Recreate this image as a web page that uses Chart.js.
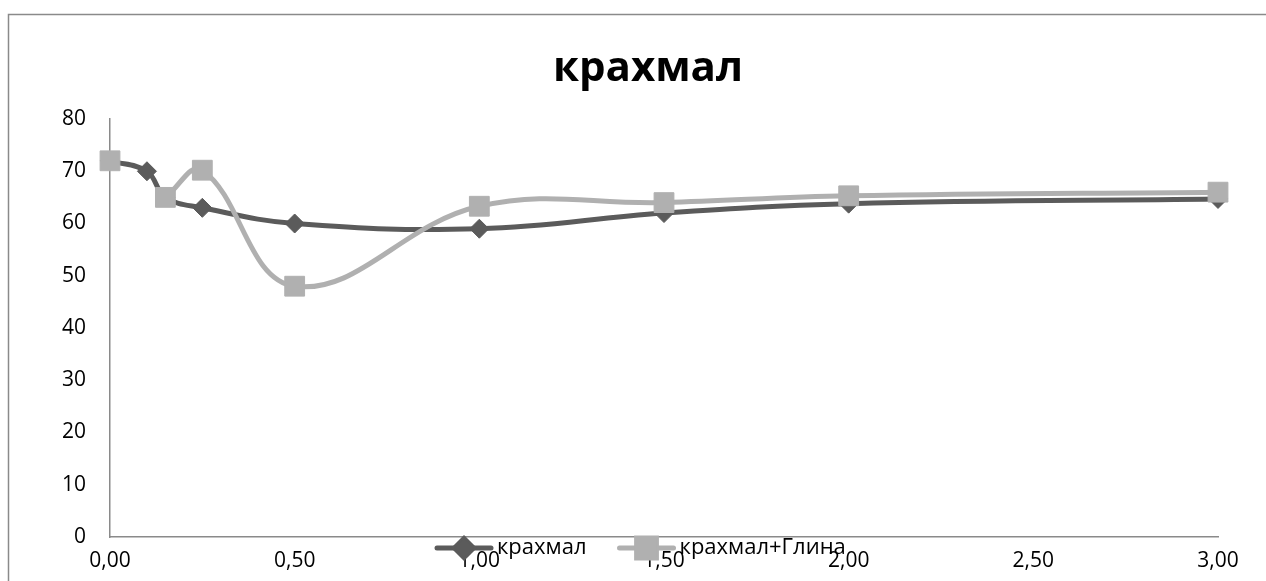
<!DOCTYPE html>
<html>
<head>
<meta charset="utf-8">
<script src="https://cdn.jsdelivr.net/npm/chart.js@4"></script>
<style>
  html, body { margin: 0; padding: 0; background: #fff; }
  #wrap { width: 1266px; height: 581px; }
</style>
</head>
<body>
<div id="wrap"><canvas id="starchChart"></canvas></div>
<script>
// concentration steps (x) shared by both series
const doses = [0, 0.1, 0.15, 0.25, 0.5, 1.0, 1.5, 2.0, 3.0];
// measured values; no reading for the clay mix at 0.1
const starch = [72, 70, 65, 63, 60, 59, 62, 63.8, 64.7];
const starchClay = [72, null, 65, 70.2, 48, 63.3, 64, 65.3, 66];
const seriesNames = ["крахмал", "крахмал+Глина"];
const chartTitle = "крахмал";
const xTicks = [0, 0.5, 1, 1.5, 2, 2.5, 3];

const dark = "#5b5b5b";
const light = "#b0b0b0";
const axisGray = "#8a8a8a";
const font = "'Open Sans', 'Noto Sans', sans-serif";

const toPoints = ys => doses.map((x, i) => ({ x: x, y: ys[i] }));

// white page, thin frame around the chart object and the big title
const framePlugin = {
  id: "frame",
  beforeDraw(chart) {
    const c = chart.ctx;
    c.save();
    c.fillStyle = "#fff";
    c.fillRect(0, 0, chart.width, chart.height);
    c.strokeStyle = axisGray;
    c.lineWidth = 1.5;
    c.strokeRect(8.5, 14.5, chart.width + 20, chart.height + 20);
    c.fillStyle = "#000";
    c.font = "bold 42px " + font;
    c.textAlign = "center";
    c.textBaseline = "middle";
    c.fillText(chartTitle, 648, 69);
    c.restore();
  }
};

// legend drawn like the office one: line segment with marker in the middle
const lineLegend = {
  id: "lineLegend",
  afterDraw(chart) {
    const c = chart.ctx;
    c.save();
    c.font = "22px " + font;
    c.textBaseline = "middle";
    const seg = 54, gapText = 6, gapItem = 33;
    const widths = seriesNames.map(n => c.measureText(n).width);
    let x = 437;
    const y = 548;
    chart.data.datasets.slice().sort((a, b) => a.legendIndex - b.legendIndex).forEach((ds, i) => {
      c.strokeStyle = ds.borderColor;
      c.lineWidth = 5;
      c.lineCap = "round";
      c.beginPath();
      c.moveTo(x, y);
      c.lineTo(x + seg, y);
      c.stroke();
      Chart.helpers.drawPoint(c, {
        pointStyle: ds.pointStyle,
        radius: ds.pointRadius,
        borderWidth: 1
      }, x + seg / 2, y);
      c.fillStyle = ds.pointBackgroundColor;
      c.fill();
      c.fillStyle = "#000";
      c.fillText(seriesNames[i], x + seg + gapText, y);
      x += seg + gapText + widths[i] + gapItem;
    });
    c.restore();
  }
};

function renderChart() {
  const ctx = document.getElementById("starchChart");

  new Chart(ctx, {
    type: "scatter",
    data: {
      datasets: [
        {
          label: seriesNames[0],
          legendIndex: 0,
          data: toPoints(starch),
          showLine: true,
          clip: false,
          order: 2,
          borderColor: dark,
          borderWidth: 5,
          tension: 0.4,
          pointStyle: "rectRot",
          pointRadius: 9.5,
          pointBackgroundColor: dark,
          pointBorderColor: dark,
          pointBorderWidth: 1
        },
        {
          label: seriesNames[1],
          legendIndex: 1,
          data: toPoints(starchClay),
          showLine: true,
          spanGaps: false,
          clip: false,
          order: 1,
          borderColor: light,
          borderWidth: 5,
          tension: 0.4,
          pointStyle: "rect",
          pointRadius: 14,
          pointBackgroundColor: light,
          pointBorderColor: light,
          pointBorderWidth: 1
        }
      ]
    },
    options: {
      responsive: true,
      maintainAspectRatio: false,
      animation: false,
      layout: { padding: { left: 20, right: 48, top: 119, bottom: 0 } },
      plugins: {
        legend: { display: false },
        tooltip: { enabled: false },
        title: { display: false }
      },
      scales: {
        x: {
          type: "linear",
          min: 0,
          max: 3,
          afterBuildTicks: s => { s.ticks = xTicks.map(v => ({ value: v })); },
          afterFit: s => { s.height = 44; },
          grid: { drawOnChartArea: false, drawTicks: false },
          border: { color: axisGray, width: 1.5 },
          ticks: {
            color: "#000",
            padding: 11,
            maxRotation: 0,
            font: { family: font, size: 21 },
            callback: v => v.toFixed(2).replace(".", ",")
          }
        },
        y: {
          min: 0,
          max: 80,
          afterFit: s => { s.width = 90; },
          grid: { drawOnChartArea: false, drawTicks: false },
          border: { color: axisGray, width: 1.5 },
          ticks: {
            stepSize: 10,
            color: "#000",
            padding: 24,
            font: { family: font, size: 21 }
          }
        }
      }
    },
    plugins: [framePlugin, lineLegend]
  });
}

renderChart();
</script>
</body>
</html>
